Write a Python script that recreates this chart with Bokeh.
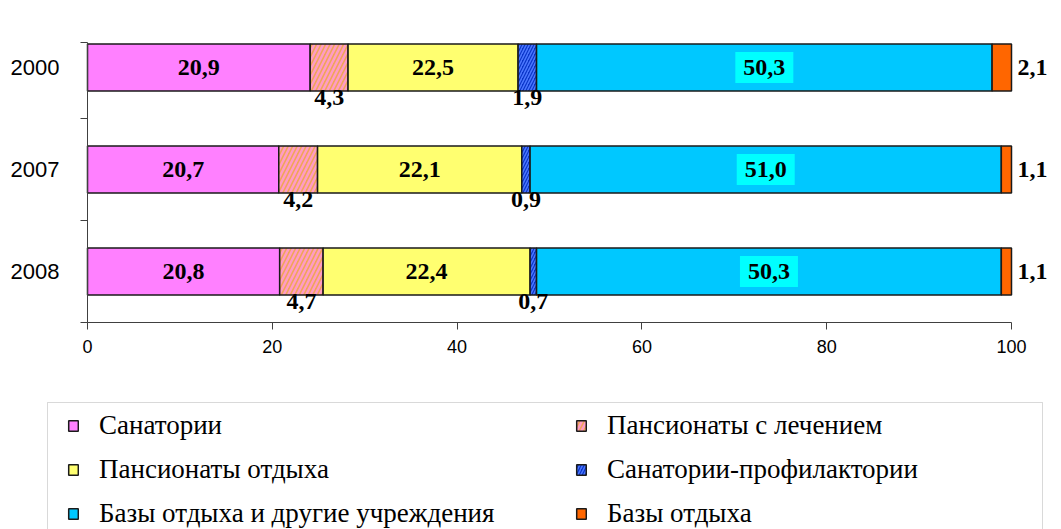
import numpy as np
from bokeh.plotting import figure
from bokeh.models import (ColumnDataSource, Range1d, FixedTicker, LabelSet, Label,
                          Legend, LegendItem, BoxAnnotation)
from bokeh.core.properties import value
from bokeh.embed import file_html
from bokeh.resources import INLINE

# ---------------- data ----------------
years = ["2000", "2007", "2008"]
series_names = ["Санатории", "Пансионаты с лечением", "Пансионаты отдыха",
                "Санатории-профилактории", "Базы отдыха и другие учреждения", "Базы отдыха"]

# segment widths as drawn (% of total), per series, for years 2000, 2007, 2008
sanatorii = [24.1, 20.7, 20.8]
pans_lech = [4.1, 4.2, 4.7]
pans_otd = [18.4, 22.1, 22.4]
profil = [2.0, 0.9, 0.7]
bazy_dr = [49.3, 51.0, 50.3]
bazy = [2.1, 1.1, 1.1]

# printed data labels
sanatorii_lbl = [20.9, 20.7, 20.8]
pans_lech_lbl = [4.3, 4.2, 4.7]
pans_otd_lbl = [22.5, 22.1, 22.4]
profil_lbl = [1.9, 0.9, 0.7]
bazy_dr_lbl = [50.3, 51.0, 50.3]
bazy_lbl = [2.1, 1.1, 1.1]

x_ticks = [0, 20, 40, 60, 80, 100]

widths = [sanatorii, pans_lech, pans_otd, profil, bazy_dr, bazy]
labels = [sanatorii_lbl, pans_lech_lbl, pans_otd_lbl, profil_lbl, bazy_dr_lbl, bazy_lbl]

# ---------------- styles / layout ----------------
styles = [
    dict(fill_color="#FF80FF"),
    dict(fill_color="#F0A458", hatch_pattern="/", hatch_color="#FF9CC4", hatch_scale=9, hatch_weight=2.5),
    dict(fill_color="#FFFF70"),
    dict(fill_color="#0A35C8", hatch_pattern="/", hatch_color="#4C78FF", hatch_scale=6, hatch_weight=1.5),
    dict(fill_color="#00C8FF"),
    dict(fill_color="#FF6600"),
]
placement = ["in", "below", "in", "below", "box", "right"]

W, H = 1061, 529
X0_PX, X100_PX = 87, 1011          # pixel columns of x=0 and x=100
Y0_PX, CAT_PX = 322, 102           # pixel row of the x axis, pixels per category
Y_TOP = 2.745                      # top of the value axis (category units)
ppx = (X100_PX - X0_PX) / 100.0
x_range = Range1d(-X0_PX / ppx, (W - X0_PX) / ppx)
y_range = Range1d(-(H - Y0_PX) / CAT_PX, Y0_PX / CAT_PX)

BAR_H = 0.46
n = len(years)
ys = np.array([n - i - 0.5 for i in range(n)])

p = figure(width=W, height=H, x_range=x_range, y_range=y_range,
           output_backend="svg", toolbar_location=None,
           min_border=0, min_border_left=0, min_border_right=0,
           min_border_top=0, min_border_bottom=0)
p.outline_line_color = None
p.xgrid.visible = False
p.ygrid.visible = False

LBL_FONT = "Liberation Serif"
left = np.zeros(n)
renderers = []
for k, (w, lb, st, pl) in enumerate(zip(widths, labels, styles, placement)):
    w = np.array(w, dtype=float)
    right = left + w
    txt = [f"{v:.1f}".replace(".", ",") for v in lb]
    src = ColumnDataSource(dict(y=ys, left=left, right=right, mid=(left + right) / 2,
                                below=ys - BAR_H / 2 + 0.005, lbl=txt))
    r = p.hbar(y="y", left="left", right="right", height=BAR_H, source=src,
               line_color="#1a1a1a", line_width=1.5, **st)
    renderers.append(r)
    common = dict(text_font_style="bold", text_font_size="24px", text_color="black")
    if pl == "in":
        p.add_layout(LabelSet(x="mid", y="y", text="lbl", source=src, text_align="center",
                              text_baseline="middle", text_font=value(LBL_FONT), **common))
    elif pl == "below":
        p.add_layout(LabelSet(x="mid", y="below", text="lbl", source=src, text_align="center",
                              text_baseline="top", text_font=value(LBL_FONT), **common))
    elif pl == "right":
        p.add_layout(LabelSet(x="right", y="y", text="lbl", source=src, text_align="left",
                              text_baseline="middle", x_offset=6, text_font=value(LBL_FONT), **common))
    elif pl == "box":
        for xm, yv, t in zip((left + right) / 2, ys, txt):
            p.add_layout(Label(x=float(xm), y=float(yv), text=t, text_align="center",
                               text_baseline="middle", text_font=LBL_FONT,
                               background_fill_color="#00FFFF", padding=8, **common))
    left = right

# ---------------- axes (drawn at x=0 / y=0 inside the full-canvas frame) ----------------
axis_color = "#404040"
p.xaxis.fixed_location = 0
p.xaxis.bounds = (0, 100)
p.xaxis.ticker = FixedTicker(ticks=x_ticks, minor_ticks=[])
p.xaxis.axis_line_color = axis_color
p.xaxis.major_tick_line_color = axis_color
p.xaxis.major_tick_out = 7
p.xaxis.major_tick_in = 0
p.xaxis.major_label_standoff = 10
p.xaxis.major_label_text_font = "Liberation Sans"
p.xaxis.major_label_text_font_size = "18px"
p.xaxis.major_label_text_color = "black"

p.yaxis.fixed_location = 0
p.yaxis.bounds = (0, Y_TOP)
p.yaxis.ticker = FixedTicker(ticks=list(ys), minor_ticks=[0, 1, 2, Y_TOP])
p.yaxis.major_label_overrides = {float(y): yr for y, yr in zip(ys, years)}
p.yaxis.axis_line_color = axis_color
p.yaxis.major_tick_out = 0
p.yaxis.major_tick_in = 0
p.yaxis.minor_tick_out = 7
p.yaxis.minor_tick_in = 0
p.yaxis.minor_tick_line_color = axis_color
p.yaxis.major_label_standoff = 21
p.yaxis.major_label_text_font = "Liberation Sans"
p.yaxis.major_label_text_font_size = "22px"
p.yaxis.major_label_text_color = "black"

# ---------------- legend ----------------
p.add_layout(BoxAnnotation(left=(47 - X0_PX) / ppx, right=(1042 - X0_PX) / ppx,
                           top=-(402 - Y0_PX) / CAT_PX, bottom=-(H + 20 - Y0_PX) / CAT_PX,
                           fill_alpha=0, line_color="#808080", line_width=1))

def make_legend(idx, loc):
    lg = Legend(items=[LegendItem(label=series_names[i], renderers=[renderers[i]]) for i in idx],
                location=loc, orientation="vertical", padding=0, margin=0,
                glyph_width=12, glyph_height=13, label_standoff=20, label_height=32,
                spacing=12, label_text_font="Liberation Serif", label_text_font_size="27px",
                label_text_color="black", border_line_color=None, background_fill_alpha=0)
    p.add_layout(lg, "center")

make_legend([0, 2, 4], (67, 0))
make_legend([1, 3, 5], (575, 0))

open("out.html", "w").write(file_html(p, INLINE))
